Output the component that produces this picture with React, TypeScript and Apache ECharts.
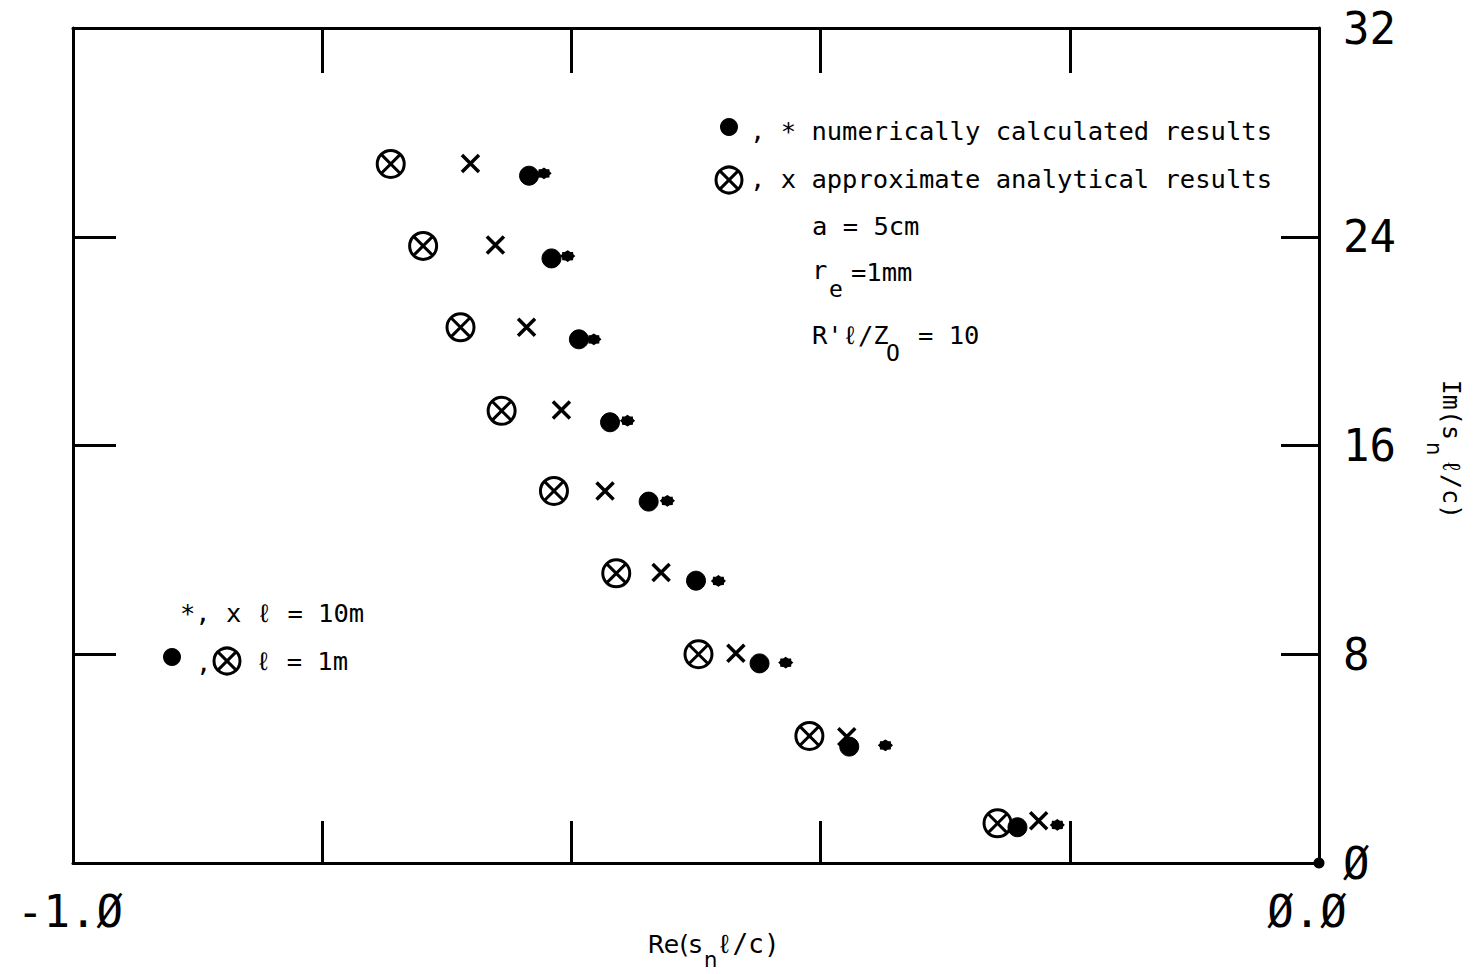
import React, { useEffect, useRef } from 'react';
import * as echarts from 'echarts';

const MONO = '"DejaVu Sans Mono", "Liberation Mono", monospace';
const SANS = '"DejaVu Sans", "Liberation Sans", sans-serif';

// Re(s_n l/c), Im(s_n l/c) pairs
const approx1m = [
  [-0.745, 26.79], [-0.719, 23.65], [-0.689, 20.53], [-0.656, 17.33], [-0.614, 14.26],
  [-0.564, 11.1], [-0.498, 8.0], [-0.409, 4.87], [-0.258, 1.52],
];
const approx10m = [
  [-0.681, 26.81], [-0.661, 23.68], [-0.636, 20.53], [-0.608, 17.36], [-0.573, 14.26],
  [-0.528, 11.13], [-0.468, 8.04], [-0.379, 4.84], [-0.225, 1.62],
];
const numeric1m = [
  [-0.634, 26.34], [-0.616, 23.17], [-0.594, 20.07], [-0.569, 16.89], [-0.538, 13.85],
  [-0.5, 10.82], [-0.449, 7.65], [-0.377, 4.46], [-0.242, 1.37],
];
const numeric10m = [
  [-0.622, 26.43], [-0.603, 23.26], [-0.582, 20.07], [-0.555, 16.95], [-0.523, 13.88],
  [-0.482, 10.81], [-0.428, 7.68], [-0.348, 4.51], [-0.21, 1.46],
];
const cornerDot = [[0, 0]];

const xTickLabels = ['{l|-1.Ø}', '', '', '', '', '{r|Ø.Ø}'];
const yTickLabels = ['Ø', '8', '16', '24', '32'];

const OTIMES = 'path://M0,-10A10,10,0,1,1,0,10A10,10,0,1,1,0,-10Z M-7.07,-7.07L7.07,7.07 M7.07,-7.07L-7.07,7.07';
const CROSS = 'path://M-10,-10L10,10M10,-10L-10,10';
const BLOB =
  'path://M10,0 L7.4,3.1 L7.07,7.07 L3.1,7.4 L0,10 L-3.1,7.4 L-7.07,7.07 L-7.4,3.1 L-10,0 L-7.4,-3.1 L-7.07,-7.07 L-3.1,-7.4 L0,-10 L3.1,-7.4 L7.07,-7.07 L7.4,-3.1 Z';

const txt = (x: number, y: number, text: string, size = 25.5, align = 'left', family = MONO) => ({
  type: 'text',
  x,
  y,
  style: {
    text,
    font: `${size}px ${family}`,
    fill: '#000',
    align,
    verticalAlign: 'middle',
    textAlign: align,
    textVerticalAlign: 'middle',
  },
});

const otimesMark = (cx: number, cy: number, r: number) => ({
  type: 'group',
  children: [
    { type: 'circle', shape: { cx, cy, r }, style: { fill: 'none', stroke: '#000', lineWidth: 3 } },
    { type: 'line', shape: { x1: cx - r * 0.7, y1: cy - r * 0.7, x2: cx + r * 0.7, y2: cy + r * 0.7 }, style: { stroke: '#000', lineWidth: 3 } },
    { type: 'line', shape: { x1: cx + r * 0.7, y1: cy - r * 0.7, x2: cx - r * 0.7, y2: cy + r * 0.7 }, style: { stroke: '#000', lineWidth: 3 } },
  ],
});

const dotMark = (cx: number, cy: number, r: number) => ({
  type: 'circle',
  shape: { cx, cy, r },
  style: { fill: '#000' },
});

const axisLine = { show: true, onZero: false, lineStyle: { color: '#000', width: 3 } };
const tickFont = { fontFamily: MONO, fontSize: 44, color: '#000' };

export default function App() {
  const ref = useRef<HTMLDivElement>(null);
  useEffect(() => {
    const chart = echarts.init(ref.current as HTMLDivElement, null, { renderer: 'svg' });
    chart.setOption({
      animation: false,
      backgroundColor: '#fff',
      grid: { left: 73, right: 156, top: 28, bottom: 111 },
      xAxis: [
        {
          type: 'value',
          position: 'bottom',
          min: -1,
          max: 0,
          interval: 0.2,
          axisLine,
          axisTick: { show: true, inside: true, length: 42, lineStyle: { color: '#000', width: 3 } },
          axisLabel: {
            show: true,
            showMinLabel: true,
            showMaxLabel: true,
            margin: 26,
            ...tickFont,
            rich: {
              l: { ...tickFont, padding: [0, 6, 0, 0] },
              r: { ...tickFont, padding: [0, 24, 0, 0] },
            },
            formatter: (v: number) => xTickLabels[Math.round((v + 1) / 0.2)] ?? '',
          },
          splitLine: { show: false },
        },
        {
          type: 'value',
          position: 'top',
          min: -1,
          max: 0,
          interval: 0.2,
          axisLine,
          axisTick: { show: true, inside: true, length: 45, lineStyle: { color: '#000', width: 3 } },
          axisLabel: { show: false },
          splitLine: { show: false },
        },
      ],
      yAxis: [
        {
          type: 'value',
          position: 'right',
          min: 0,
          max: 32,
          interval: 8,
          axisLine,
          axisTick: { show: true, inside: true, length: 38, lineStyle: { color: '#000', width: 3 } },
          axisLabel: {
            show: true,
            showMinLabel: true,
            showMaxLabel: true,
            margin: 24,
            ...tickFont,
            formatter: (v: number) => yTickLabels[Math.round(v / 8)] ?? '',
          },
          splitLine: { show: false },
        },
        {
          type: 'value',
          position: 'left',
          min: 0,
          max: 32,
          interval: 8,
          axisLine,
          axisTick: { show: true, inside: true, length: 43, lineStyle: { color: '#000', width: 3 } },
          axisLabel: { show: false },
          splitLine: { show: false },
        },
      ],
      series: [
        {
          name: 'approximate, l = 1m',
          type: 'scatter',
          xAxisIndex: 0,
          yAxisIndex: 0,
          data: approx1m,
          symbol: OTIMES,
          symbolSize: 27,
          itemStyle: { color: 'rgba(0,0,0,0)', borderColor: '#000', borderWidth: 3, opacity: 1 },
        },
        {
          name: 'approximate, l = 10m',
          type: 'scatter',
          xAxisIndex: 0,
          yAxisIndex: 0,
          data: approx10m,
          symbol: CROSS,
          symbolSize: 17,
          itemStyle: { color: 'rgba(0,0,0,0)', borderColor: '#000', borderWidth: 3.5, opacity: 1 },
        },
        {
          name: 'numerical, l = 1m',
          type: 'scatter',
          xAxisIndex: 0,
          yAxisIndex: 0,
          data: numeric1m,
          symbol: 'circle',
          symbolSize: 19,
          itemStyle: { color: '#000', borderColor: '#000', borderWidth: 1, opacity: 1 },
        },
        {
          name: 'numerical, l = 10m',
          type: 'scatter',
          xAxisIndex: 0,
          yAxisIndex: 0,
          data: numeric10m,
          symbol: BLOB,
          symbolSize: [13, 10],
          itemStyle: { color: '#000', borderColor: '#000', borderWidth: 1.5, opacity: 1 },
        },
        {
          name: 'corner',
          type: 'scatter',
          xAxisIndex: 0,
          yAxisIndex: 0,
          data: cornerDot,
          symbol: 'circle',
          symbolSize: 11,
          itemStyle: { color: '#000', opacity: 1 },
        },
      ],
      graphic: [
        // upper legend
        dotMark(729, 127, 9),
        txt(750, 131, ', * numerically calculated results'),
        otimesMark(729, 180, 13),
        txt(750, 179, ', x approximate analytical results'),
        txt(812, 226, 'a = 5cm'),
        txt(812, 270, 'r'),
        txt(829, 289, 'e', 23),
        txt(851, 272, '=1mm'),
        txt(812, 335, "R'ℓ/Z"),
        txt(886, 353, 'O', 23),
        txt(918, 335, '= 10'),
        // lower-left legend
        txt(180, 613, '*, x ℓ = 10m'),
        dotMark(172, 657, 9),
        txt(196, 663, ','),
        otimesMark(227, 661, 13),
        txt(256, 661, 'ℓ = 1m'),
        // x axis title
        txt(702, 944, 'Re(s', 25, 'right', SANS),
        txt(704, 960, 'n', 21, 'left', SANS),
        txt(717, 944, 'ℓ/c)', 26),
        // y axis title (rotated clockwise)
        {
          type: 'group',
          x: 1451,
          y: 447,
          rotation: -Math.PI / 2,
          children: [
            txt(-7, 0, 'Im(s', 25, 'right'),
            txt(-5, 17, 'n', 21, 'left', SANS),
            txt(12, 0, 'ℓ/c)', 25),
          ],
        },
      ],
    });
    return () => chart.dispose();
  }, []);
  return (
    <div
      ref={ref}
      style={{ position: 'fixed', left: 0, top: 0, width: 1475, height: 974, background: '#fff' }}
    />
  );
}
